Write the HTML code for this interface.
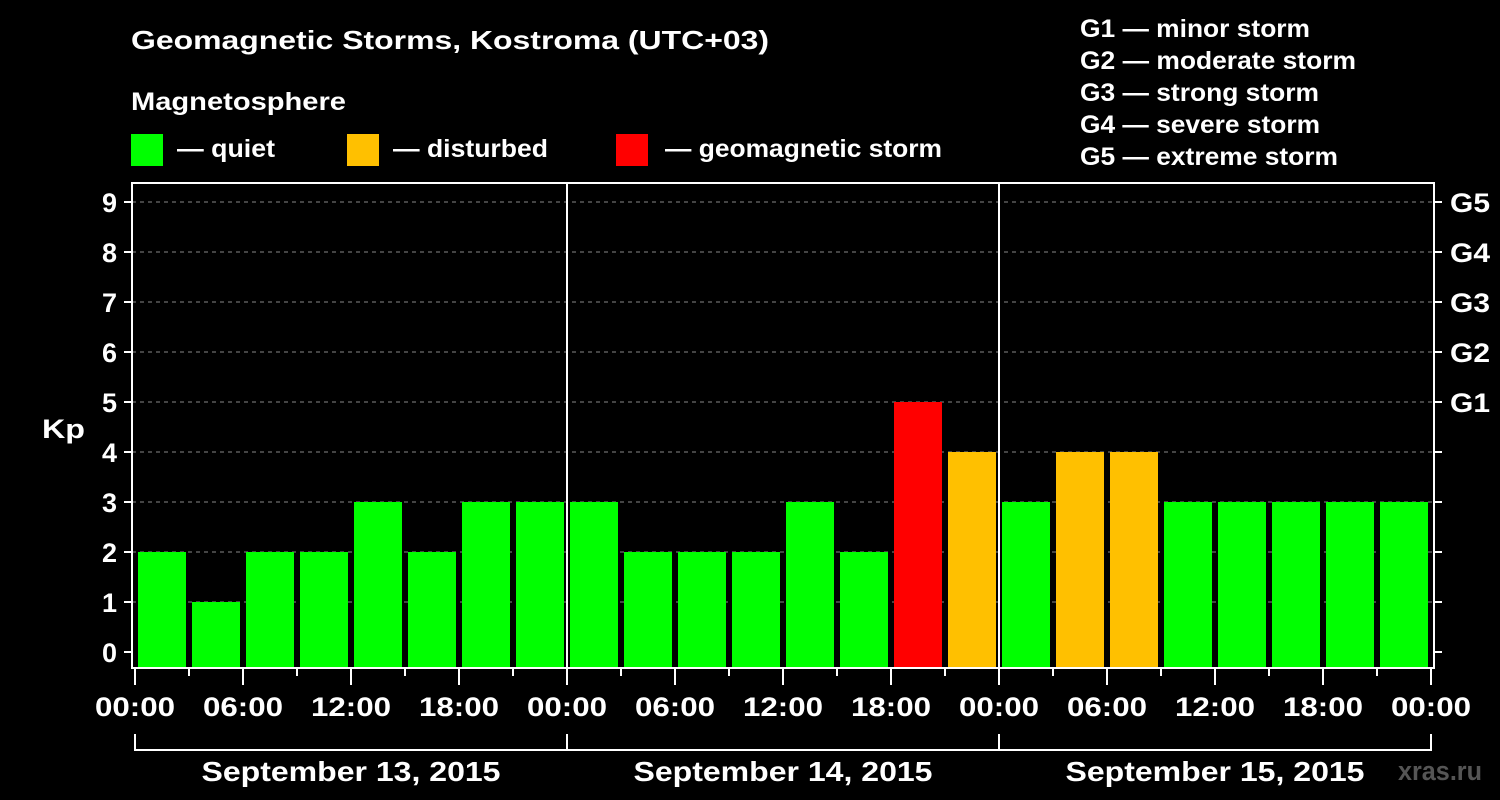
<!DOCTYPE html>
<html><head><meta charset="utf-8"><style>
html,body{margin:0;padding:0;background:#000;}
svg{display:block;font-family:"Liberation Sans",Arial,sans-serif;font-weight:bold;}
</style></head><body>
<svg id="c" width="1500" height="800" viewBox="0 0 1500 800" xmlns="http://www.w3.org/2000/svg">
<rect width="1500" height="800" fill="#000"/>
<text x="131" y="49" fill="#fff" font-size="26" textLength="638" lengthAdjust="spacingAndGlyphs">Geomagnetic Storms, Kostroma (UTC+03)</text>
<text x="131" y="110" fill="#fff" font-size="25" textLength="215" lengthAdjust="spacingAndGlyphs">Magnetosphere</text>
<g><rect x="131" y="134" width="32" height="32" fill="#00ff00"/><text x="177" y="157" fill="#fff" font-size="25" textLength="98" lengthAdjust="spacingAndGlyphs">— quiet</text></g>
<g><rect x="347" y="134" width="32" height="32" fill="#ffc000"/><text x="393" y="157" fill="#fff" font-size="25" textLength="155" lengthAdjust="spacingAndGlyphs">— disturbed</text></g>
<g><rect x="616" y="134" width="32" height="32" fill="#ff0000"/><text x="665" y="157" fill="#fff" font-size="25" textLength="277" lengthAdjust="spacingAndGlyphs">— geomagnetic storm</text></g>
<g fill="#fff" font-size="25" lengthAdjust="spacingAndGlyphs">
<text x="1080" y="37" textLength="230" lengthAdjust="spacingAndGlyphs">G1 — minor storm</text>
<text x="1080" y="69" textLength="276" lengthAdjust="spacingAndGlyphs">G2 — moderate storm</text>
<text x="1080" y="101" textLength="239" lengthAdjust="spacingAndGlyphs">G3 — strong storm</text>
<text x="1080" y="133" textLength="240" lengthAdjust="spacingAndGlyphs">G4 — severe storm</text>
<text x="1080" y="165" textLength="258" lengthAdjust="spacingAndGlyphs">G5 — extreme storm</text>
</g>
<text x="42" y="438" fill="#fff" font-size="27" textLength="43" lengthAdjust="spacingAndGlyphs">Kp</text>
<text x="1398" y="780" fill="#555" font-size="27" textLength="84" lengthAdjust="spacingAndGlyphs">xras.ru</text>
<g id="grid"></g><g id="bars"></g><g id="axes"></g>
</svg>
<script>
const kpValues=[2,1,2,2,3,2,3,3, 3,2,2,2,3,2,5,4, 3,4,4,3,3,3,3,3];
const yTicks=[0,1,2,3,4,5,6,7,8,9];
const gLabels=["G1","G2","G3","G4","G5"];
const xTickLabels=["00:00","06:00","12:00","18:00","00:00","06:00","12:00","18:00","00:00","06:00","12:00","18:00","00:00"];
const dayLabels=["September 13, 2015","September 14, 2015","September 15, 2015"];
const NS="http://www.w3.org/2000/svg";
const X0=135,SLOT=54,Y0=652,UNIT=50,BOT=668,TOP=183,RIGHT=1434;
const xs=i=>X0+i*SLOT;
const ys=v=>Y0-v*UNIT;
function mk(t,a,p){const e=document.createElementNS(NS,t);for(const k in a)e.setAttribute(k,a[k]);p.appendChild(e);return e;}
const grid=document.getElementById('grid'),bars=document.getElementById('bars'),axes=document.getElementById('axes');
yTicks.forEach(v=>{
  if(v>0){const l=mk('line',{x1:132,x2:RIGHT,y1:ys(v),y2:ys(v),stroke:'#888','stroke-width':1,'stroke-dasharray':'4,4'},grid);
  
  }
  const t=mk('line',{x1:124,x2:132,y1:ys(v),y2:ys(v),stroke:'#fff','stroke-width':2},axes);
  
  
  const t2=mk('line',{x1:RIGHT,x2:RIGHT+8,y1:ys(v),y2:ys(v),stroke:'#fff','stroke-width':2},axes);
  
  
  const tx=mk('text',{x:117,y:ys(v)+10,'text-anchor':'end',fill:'#fff','font-size':27},axes);
  tx.textContent=v;
  
  
});
gLabels.forEach((g,i)=>{
  const tx=mk('text',{x:1450,y:ys(5+i)+10,fill:'#fff','font-size':27,textLength:40,lengthAdjust:'spacingAndGlyphs'},axes);
  tx.textContent=g;
  
  
});
kpValues.forEach((v,i)=>{
  const c=v>=5?'#ff0000':(v>=4?'#ffc000':'#00ff00');
  const b=mk('rect',{x:xs(i)+3,y:ys(v),width:SLOT-6,height:BOT-1-ys(v),fill:c},bars);
  
  
});
const fr=mk('rect',{x:132,y:TOP,width:RIGHT-132,height:BOT-TOP,fill:'none',stroke:'#fff','stroke-width':2},axes);


for(let d=1;d<dayLabels.length;d++){
  const l=mk('line',{x1:xs(d*8),x2:xs(d*8),y1:TOP,y2:BOT,stroke:'#fff','stroke-width':2},axes);
  
  
}
for(let i=0;i<=24;i++){
  const maj=i%2===0;
  const l=mk('line',{x1:xs(i),x2:xs(i),y1:BOT,y2:maj?685:676,stroke:'#fff','stroke-width':2},axes);
  
  
}
xTickLabels.forEach((s,i)=>{
  const tx=mk('text',{x:xs(i*2),y:716,'text-anchor':'middle',fill:'#fff','font-size':27,textLength:80,lengthAdjust:'spacingAndGlyphs'},axes);
  tx.textContent=s;
  
  
});
const br=mk('path',{d:`M${xs(0)},734V750H${xs(24)}V734`,fill:'none',stroke:'#fff','stroke-width':2},axes);


dayLabels.forEach((s,d)=>{
  const l=mk('line',{x1:xs(d*8),x2:xs(d*8),y1:734,y2:750,stroke:'#fff','stroke-width':2},axes);
  
  
  const tx=mk('text',{x:(xs(d*8)+xs(d*8+8))/2,y:781,'text-anchor':'middle',fill:'#fff','font-size':28,textLength:299,lengthAdjust:'spacingAndGlyphs'},axes);
  tx.textContent=s;
  
  
});
</script>
</body></html>
